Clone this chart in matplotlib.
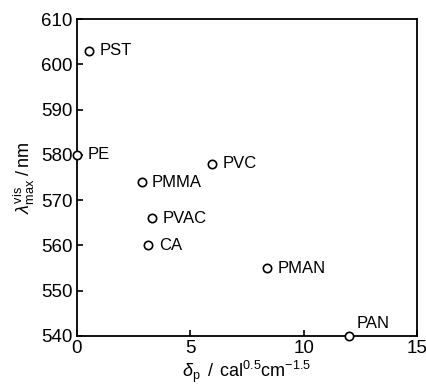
import matplotlib
matplotlib.use("Agg")
import matplotlib.pyplot as plt

# polymer, delta_p (cal^0.5 cm^-1.5), lambda_max vis (nm)
polymers = ["PST", "PE", "PVC", "PMMA", "PVAC", "CA", "PMAN", "PAN"]
delta_p = [0.55, 0.0, 5.95, 2.85, 3.3, 3.15, 8.4, 12.0]
lam_max = [603, 580, 578, 574, 566, 560, 555, 540]

plt.rcParams["font.family"] = ["Liberation Sans", "DejaVu Sans"]
plt.rcParams["mathtext.fontset"] = "custom"
plt.rcParams["mathtext.rm"] = "Liberation Sans"
plt.rcParams["mathtext.it"] = "Liberation Sans:italic"

fig = plt.figure(figsize=(4.27, 3.92), dpi=100)
ax = fig.add_axes([77 / 427, 1 - 336 / 392, 340 / 427, 317 / 392])

ax.plot(delta_p, lam_max, "o", ms=6, mfc="white", mec="black", mew=1.2, clip_on=False, zorder=5)

for name, x, y in zip(polymers, delta_p, lam_max):
    if name == "PAN":
        ax.annotate(name, (x, y), xytext=(5.5, 3.5), textcoords="offset points",
                    ha="left", va="bottom", fontsize=12)
    else:
        ax.annotate(name, (x, y), xytext=(7.5, 0), textcoords="offset points",
                    ha="left", va="center", fontsize=12)

ax.set_xlim(0, 15)
ax.set_ylim(540, 610)
ax.set_xticks([0, 5, 10, 15])
ax.set_yticks(range(540, 611, 10))
ax.tick_params(direction="in", length=4, width=1.2, labelsize=13.5, pad=3, top=False, right=False)
for s in ax.spines.values():
    s.set_linewidth(1.3)

ax.set_xlabel(r"$\delta_{\rm p}$ $\,/\,$ cal$^{0.5}$cm$^{-1.5}$", fontsize=13, labelpad=1)
ax.set_ylabel(r"$\lambda^{\rm vis}_{\rm max}$ $/\,$nm", fontsize=13, labelpad=3)

fig.savefig("out.png", dpi=100)
